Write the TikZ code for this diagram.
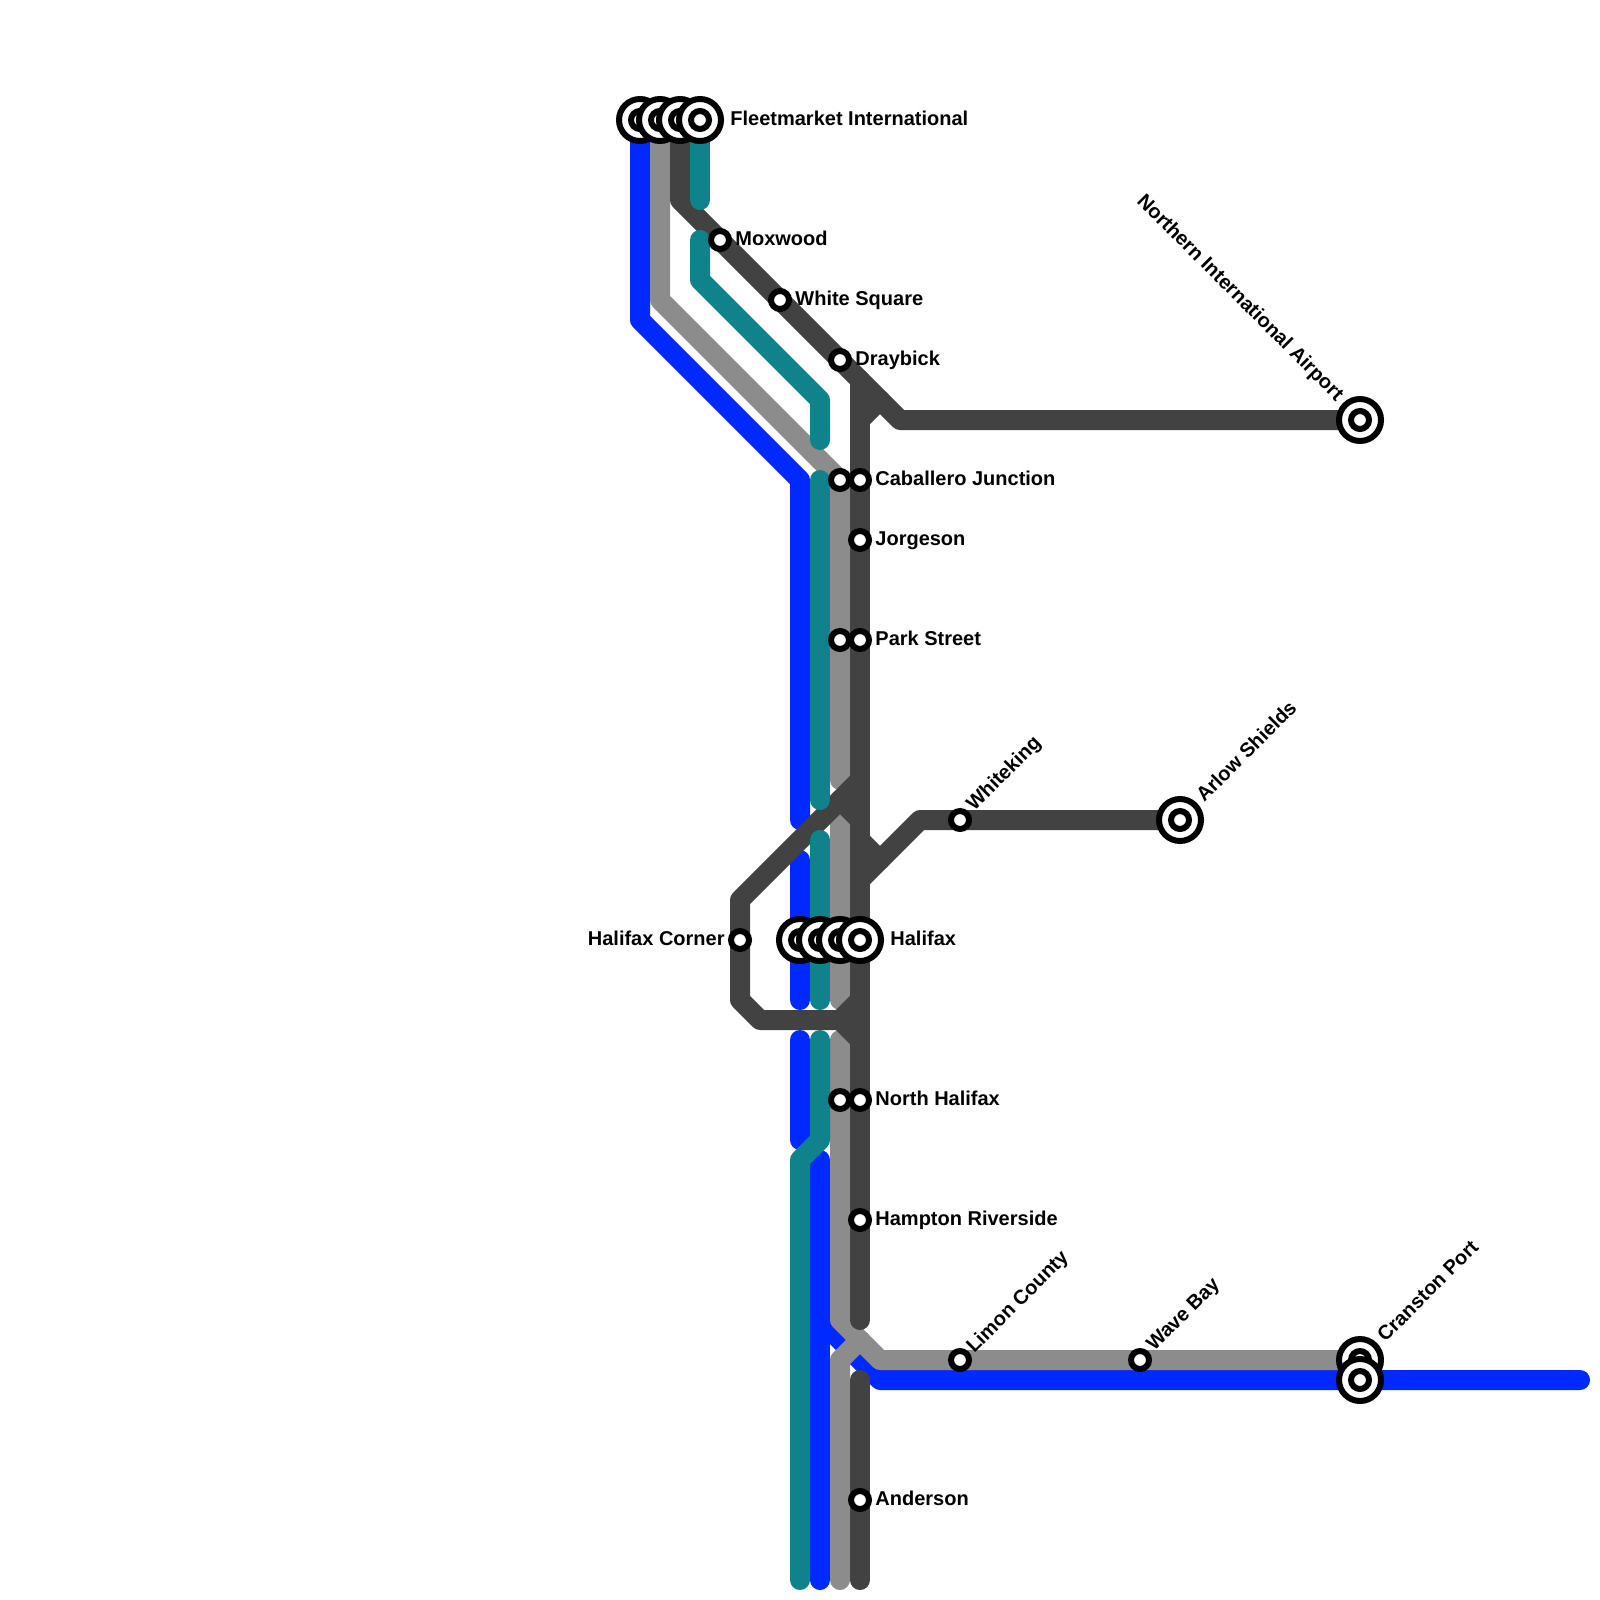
\documentclass[tikz,border=0pt]{standalone}
\usepackage{fontspec}
\setmainfont{Liberation Sans}
\usepackage{xcolor}
\definecolor{lineBlue}{HTML}{0029FF}
\definecolor{lineTeal}{HTML}{0E838B}
\definecolor{lineGray}{HTML}{8C8C8C}
\definecolor{lineDark}{HTML}{424242}
\tikzset{
  route/.style={line width=10pt, line cap=round, line join=round},
  stopsmall/.style={circle, draw=black, fill=white, line width=3pt, minimum size=9pt, inner sep=0pt, outer sep=0pt},
  stopbig/.style={circle, draw=black, fill=white, line width=3pt, minimum size=21pt, inner sep=0pt, outer sep=0pt,
    path picture={\draw[black, line width=3pt] (path picture bounding box.center) circle (4.5pt);}},
  stopname/.style={font=\bfseries\fontsize{10}{12}\selectfont, inner sep=0pt, anchor=base west},
}
\begin{document}
\begin{tikzpicture}[x=0.5pt, y=-0.5pt]
  \useasboundingbox (0,0) rectangle (1600,1600);
  % stations
  \coordinate (FleetA) at (640,120);
  \coordinate (FleetB) at (660,120);
  \coordinate (FleetC) at (680,120);
  \coordinate (FleetD) at (700,120);
  \coordinate (Moxwood) at (720,240);
  \coordinate (WhiteSq) at (780,300);
  \coordinate (Draybick) at (840,360);
  \coordinate (North) at (1360,420);
  \coordinate (CabA) at (840,480);
  \coordinate (CabB) at (860,480);
  \coordinate (Jorgeson) at (860,540);
  \coordinate (ParkA) at (840,640);
  \coordinate (ParkB) at (860,640);
  \coordinate (Whiteking) at (960,820);
  \coordinate (Arlow) at (1180,820);
  \coordinate (Corner) at (740,940);
  \coordinate (HalA) at (800,940);
  \coordinate (HalB) at (820,940);
  \coordinate (HalC) at (840,940);
  \coordinate (HalD) at (860,940);
  \coordinate (NorthHalA) at (840,1100);
  \coordinate (NorthHalB) at (860,1100);
  \coordinate (Hampton) at (860,1220);
  \coordinate (Limon) at (960,1360);
  \coordinate (WaveBay) at (1140,1360);
  \coordinate (CranA) at (1360,1360);
  \coordinate (CranB) at (1360,1380);
  \coordinate (Anderson) at (860,1500);
  % blue line
  \draw[route, lineBlue] (FleetA) -- (640,320) -- (800,480) -- (800,820);
  \draw[route, lineBlue] (800,860) -- (HalA) -- (800,1000);
  \draw[route, lineBlue] (800,1040) -- (800,1140);
  \draw[route, lineBlue] (820,1160) -- (820,1580);
  \draw[route, lineBlue] (820,1320) -- (880,1380) -- (CranB) -- (1580,1380);
  % gray line
  \draw[route, lineGray] (FleetB) -- (660,300) -- (CabA) -- (ParkA) -- (840,780);
  \draw[route, lineGray] (840,820) -- (HalC) -- (840,1000);
  \draw[route, lineGray] (840,1040) -- (NorthHalA) -- (840,1320) -- (880,1360) -- (Limon) -- (WaveBay) -- (CranA);
  \draw[route, lineGray] (840,1580) -- (840,1360) -- (860,1340);
  % dark line
  \draw[route, lineDark] (FleetC) -- (680,200) -- (Moxwood) -- (WhiteSq) -- (Draybick) -- (900,420) -- (North);
  \draw[route, lineDark] (860,380) -- (CabB) -- (Jorgeson) -- (ParkB) -- (HalD) -- (NorthHalB) -- (Hampton) -- (860,1320);
  \draw[route, lineDark] (860,420) -- (880,400);
  \draw[route, lineDark] (860,780) -- (740,900) -- (Corner) -- (740,1000) -- (760,1020) -- (840,1020) -- (860,1000);
  \draw[route, lineDark] (840,800) -- (860,820);
  \draw[route, lineDark] (840,1020) -- (860,1040);
  \draw[route, lineDark] (860,840) -- (880,860);
  \draw[route, lineDark] (860,880) -- (920,820) -- (Whiteking) -- (Arlow);
  \draw[route, lineDark] (860,1380) -- (Anderson) -- (860,1580);
  % teal line
  \draw[route, lineTeal] (FleetD) -- (700,200);
  \draw[route, lineTeal] (700,240) -- (700,280) -- (820,400) -- (820,440);
  \draw[route, lineTeal] (820,480) -- (820,800);
  \draw[route, lineTeal] (820,840) -- (HalB) -- (820,1000);
  \draw[route, lineTeal] (820,1040) -- (820,1140) -- (800,1160) -- (800,1580);
  % stops
  \node[stopbig] (stFleetA) at (FleetA) {};
  \node[stopbig] (stFleetB) at (FleetB) {};
  \node[stopbig] (stFleetC) at (FleetC) {};
  \node[stopbig] (stFleetD) at (FleetD) {};
  \node[stopsmall] (stMoxwood) at (Moxwood) {};
  \node[stopsmall] (stWhiteSq) at (WhiteSq) {};
  \node[stopsmall] (stDraybick) at (Draybick) {};
  \node[stopbig] (stNorth) at (North) {};
  \node[stopsmall] (stCabA) at (CabA) {};
  \node[stopsmall] (stCabB) at (CabB) {};
  \node[stopsmall] (stJorgeson) at (Jorgeson) {};
  \node[stopsmall] (stParkA) at (ParkA) {};
  \node[stopsmall] (stParkB) at (ParkB) {};
  \node[stopsmall] (stWhiteking) at (Whiteking) {};
  \node[stopbig] (stArlow) at (Arlow) {};
  \node[stopsmall] (stCorner) at (Corner) {};
  \node[stopbig] (stHalA) at (HalA) {};
  \node[stopbig] (stHalB) at (HalB) {};
  \node[stopbig] (stHalC) at (HalC) {};
  \node[stopbig] (stHalD) at (HalD) {};
  \node[stopsmall] (stNorthHalA) at (NorthHalA) {};
  \node[stopsmall] (stNorthHalB) at (NorthHalB) {};
  \node[stopsmall] (stHampton) at (Hampton) {};
  \node[stopsmall] (stLimon) at (Limon) {};
  \node[stopsmall] (stWaveBay) at (WaveBay) {};
  \node[stopbig] (stCranA) at (CranA) {};
  \node[stopbig] (stCranB) at (CranB) {};
  \node[stopsmall] (stAnderson) at (Anderson) {};
  % names
  \node[stopname] (nmFleet) at (730,125.5) {Fleetmarket International};
  \node[stopname] (nmMoxwood) at (735,245.5) {Moxwood};
  \node[stopname] (nmWhiteSq) at (795,305.5) {White Square};
  \node[stopname] (nmDraybick) at (855,365.5) {Draybick};
  \node[stopname, anchor=base east, rotate=-45] (nmNorth) at (1336,402) {Northern International Airport};
  \node[stopname] (nmCab) at (875,485.5) {Caballero Junction};
  \node[stopname] (nmJorgeson) at (875,545.5) {Jorgeson};
  \node[stopname] (nmPark) at (875,645.5) {Park Street};
  \node[stopname, rotate=45] (nmWhiteking) at (974,812) {Whiteking};
  \node[stopname, rotate=45] (nmArlow) at (1204,803) {Arlow Shields};
  \node[stopname, anchor=base east] (nmCorner) at (725,945.5) {Halifax Corner};
  \node[stopname] (nmHalifax) at (890,945.5) {Halifax};
  \node[stopname] (nmNorthHal) at (875,1105.5) {North Halifax};
  \node[stopname] (nmHampton) at (875,1225.5) {Hampton Riverside};
  \node[stopname, rotate=45] (nmLimon) at (974,1354) {Limon County};
  \node[stopname, rotate=45] (nmWaveBay) at (1154,1352) {Wave Bay};
  \node[stopname, rotate=45] (nmCran) at (1385,1343) {Cranston Port};
  \node[stopname] (nmAnderson) at (875,1505.5) {Anderson};
\end{tikzpicture}
\end{document}
